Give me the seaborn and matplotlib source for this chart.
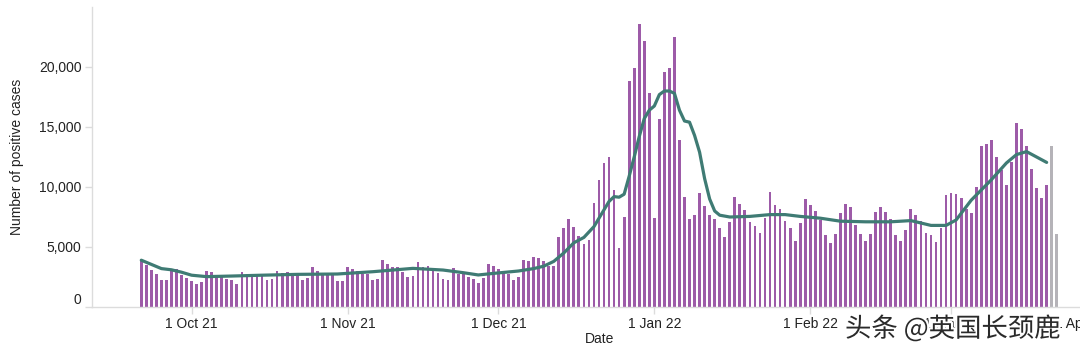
import matplotlib
matplotlib.use("Agg")
import matplotlib.pyplot as plt
import matplotlib.dates as mdates
import matplotlib.patheffects as pe
import pandas as pd
import seaborn as sns

# === DATA ===
start_date = "2021-09-21"

# daily positive cases, 21 Sep 2021 - 20 Mar 2022
cases_sep = [3900, 3500, 3100, 2750, 2250, 2250, 3150, 3200, 2700, 2450]
cases_oct = [2150, 1950, 2050, 3000, 2900, 2700, 2500, 2300, 2250, 1950,
             2900, 2750, 2720, 2720, 2580, 2250, 2330, 3030, 2800, 2900,
             2750, 2720, 2250, 2450, 3360, 3030, 2750, 2750, 2750, 2170, 2170]
cases_nov = [3360, 3140, 3030, 2750, 2750, 2250, 2330, 3920, 3560, 3300,
             3300, 2940, 2470, 2580, 3720, 3360, 3440, 3030, 2860, 2330,
             2250, 3220, 2750, 2720, 2530, 2330, 1970, 2400, 3550, 3450]
cases_dec = [3200, 3000, 2750, 2250, 2500, 3900, 3850, 4200, 4100, 3800,
             3400, 3450, 5800, 6600, 7300, 6700, 5900, 5250, 5600, 8700,
             10600, 12000, 12500, 9750, 4900, 7500, 18800, 19900, 23600, 22200, 17800]
cases_jan = [7400, 15700, 19600, 19900, 22500, 13900, 9200, 7300, 7700, 9500,
             8400, 7700, 7300, 6600, 5800, 7100, 9200, 8600, 8100, 7100,
             6750, 6200, 7400, 9600, 8500, 8200, 7200, 6600, 5500, 7000, 9000]
cases_feb = [8500, 8000, 7250, 6000, 5350, 6100, 7800, 8600, 8300, 6800,
             6100, 5500, 6100, 7900, 8300, 7900, 7300, 6000, 5500, 6400,
             8200, 7700, 7150, 6200, 6000, 5400, 6550, 9300]
cases_mar = [9500, 9400, 9050, 8200, 7800, 10000, 13400, 13600, 13900, 12500,
             11400, 10200, 12100, 15300, 14800, 13450, 11500, 9900, 9050, 10200]
# last two days, incomplete (grey)
cases_incomplete = [13450, 6100]

# rolling average line
avg_dates = ["2021-09-21", "2021-09-23", "2021-09-25", "2021-09-27", "2021-09-29",
             "2021-10-01", "2021-10-04", "2021-10-09", "2021-10-15", "2021-10-22",
             "2021-10-30", "2021-11-06", "2021-11-10", "2021-11-14", "2021-11-20",
             "2021-11-24", "2021-11-27", "2021-11-30", "2021-12-05", "2021-12-08",
             "2021-12-10", "2021-12-12", "2021-12-14", "2021-12-16", "2021-12-18",
             "2021-12-20", "2021-12-21", "2021-12-22", "2021-12-23", "2021-12-24",
             "2021-12-25", "2021-12-26", "2021-12-27", "2021-12-28", "2021-12-29",
             "2021-12-30", "2021-12-31", "2022-01-01", "2022-01-02", "2022-01-03",
             "2022-01-04", "2022-01-05", "2022-01-06", "2022-01-07", "2022-01-08",
             "2022-01-09", "2022-01-10", "2022-01-11", "2022-01-12", "2022-01-13",
             "2022-01-14", "2022-01-16", "2022-01-20", "2022-01-24", "2022-01-27",
             "2022-01-30", "2022-02-03", "2022-02-07", "2022-02-12", "2022-02-17",
             "2022-02-21", "2022-02-23", "2022-02-25", "2022-02-28", "2022-03-02",
             "2022-03-05", "2022-03-09", "2022-03-12", "2022-03-14", "2022-03-16",
             "2022-03-18", "2022-03-20"]
avg_values = [3900, 3550, 3200, 3100, 2900,
              2650, 2530, 2580, 2650, 2720,
              2750, 2940, 3080, 3220, 3080,
              2860, 2670, 2800, 3000, 3200,
              3400, 3800, 4500, 5350, 5800,
              6700, 7400, 8100, 8800, 9200,
              9150, 9400, 10900, 12500, 14200,
              15700, 16400, 16750, 17700, 18000,
              18000, 17800, 16400, 15500, 15400,
              14300, 12900, 10700, 9000, 8000,
              7650, 7500, 7550, 7700, 7700,
              7550, 7400, 7150, 7100, 7100,
              7200, 7000, 6800, 6800, 7250,
              8900, 10600, 12000, 12700, 12950,
              12500, 12050]

tick_dates = ["2021-10-01", "2021-11-01", "2021-12-01", "2022-01-01",
              "2022-02-01", "2022-03-01", "2022-04-01"]
tick_labels = ["1 Oct 21", "1 Nov 21", "1 Dec 21", "1 Jan 22",
               "1 Feb 22", "1 Mar 22", "1 Apr 22"]
y_ticks = [0, 5000, 10000, 15000, 20000]

# === COLOURS ===
bar_purple = "#9d5ba8"
bar_grey = "#b5b3b8"
line_teal = "#3f7b74"
axis_grey = "#dcdcdc"

# === BUILD TABLE ===
cases = cases_sep + cases_oct + cases_nov + cases_dec + cases_jan + cases_feb + cases_mar
all_cases = cases + cases_incomplete
dates = pd.date_range(start_date, periods=len(all_cases), freq="D")
df = pd.DataFrame({
    "x": mdates.date2num(dates.to_pydatetime()),
    "cases": all_cases,
    "status": ["complete"] * len(cases) + ["incomplete"] * len(cases_incomplete),
})
avg_x = mdates.date2num(pd.to_datetime(avg_dates).to_pydatetime())

# === PLOT ===
sns.set_theme(style="white")
plt.rcParams["font.family"] = ["Liberation Sans", "DejaVu Sans"]

fig = plt.figure(figsize=(10.8, 3.59), dpi=100)
ax = fig.add_axes([92 / 1080, 1 - 307 / 359, (1107 - 92) / 1080, 300 / 359])

sns.barplot(data=df, x="x", y="cases", hue="status", native_scale=True,
            palette={"complete": bar_purple, "incomplete": bar_grey},
            dodge=False, width=0.55, saturation=1, errorbar=None,
            legend=False, linewidth=0, ax=ax)
sns.lineplot(x=avg_x, y=avg_values, color=line_teal, linewidth=2.3, ax=ax)

oct1 = mdates.date2num(pd.Timestamp("2021-10-01").to_pydatetime())
apr1 = mdates.date2num(pd.Timestamp("2022-04-01").to_pydatetime())
ax.set_xlim(oct1 - 19.8, apr1)
ax.set_ylim(0, 25000)

ax.set_xticks(mdates.date2num(pd.to_datetime(tick_dates).to_pydatetime()))
ax.set_xticklabels(tick_labels)
ax.set_yticks(y_ticks)
ax.set_yticklabels([f"{v:,}" for v in y_ticks])
# flush labels at the ends of the axes
ax.get_xticklabels()[-1].set_horizontalalignment("right")
ax.get_yticklabels()[0].set_verticalalignment("bottom")

ax.tick_params(axis="both", which="both", length=5, width=1, color=axis_grey,
               labelsize=10, labelcolor="#222222", pad=2.5, bottom=True, left=True)

for side in ["top", "right"]:
    ax.spines[side].set_visible(False)
for side in ["left", "bottom"]:
    ax.spines[side].set_color(axis_grey)
    ax.spines[side].set_linewidth(1)

ax.set_xlabel("Date", fontsize=10, color="#222222")
ax.set_ylabel("Number of positive cases", fontsize=10, color="#222222")
ax.xaxis.set_label_coords(0.5, -0.083)
ax.yaxis.set_label_coords(-0.067, 0.5)

# watermark
fig.text(845 / 1080, 1 - 329 / 359, "头条 @英国长颈鹿", ha="left", va="center",
         fontsize=19, color="#2a2a2a",
         family=["Noto Sans CJK SC", "DejaVu Sans"],
         path_effects=[pe.withStroke(linewidth=3, foreground="white")])

fig.savefig("out.png", dpi=100)
plt.close(fig)
